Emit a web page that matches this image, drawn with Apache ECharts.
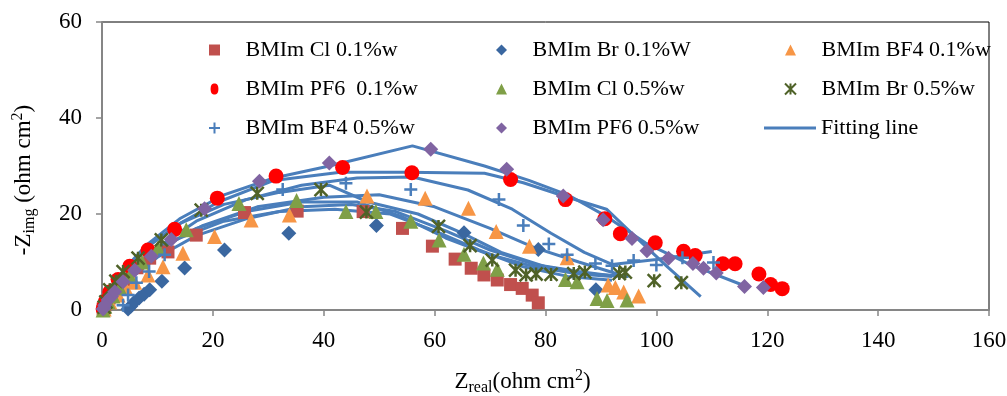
<!DOCTYPE html>
<html>
<head>
<meta charset="utf-8">
<script src="https://cdn.jsdelivr.net/npm/echarts@6/dist/echarts.min.js"></script>
<style>
html,body{margin:0;padding:0;background:#fff;}
#chart{width:1007px;height:396px;}
</style>
</head>
<body>
<div id="chart"></div>
<script>
// ---- data (Z_real, -Z_img) in ohm cm2 ----
const xTicks = [0, 20, 40, 60, 80, 100, 120, 140, 160];
const yTicks = [0, 20, 40, 60];

const cl01 = [[0.2,0.2],[0.5,1.0],[1.3,2.5],[2.5,4.2],[4.1,6.3],[6.3,8.8],[8.6,10.8],[11.9,12.1],[17.0,15.6],[25.7,20.3],[35.2,20.6],[47.1,20.5],[54.2,17.0],[59.6,13.3],[63.7,10.6],[66.6,8.7],[68.9,7.3],[71.3,6.25],[73.7,5.3],[75.8,4.5],[77.6,3.1],[78.7,1.5]];
const br01 = [[4.7,0.2],[5.2,0.8],[5.9,1.7],[6.7,2.5],[7.6,3.3],[8.6,4.2],[10.8,6.0],[14.9,8.75],[22.1,12.5],[33.7,16.0],[49.5,17.6],[65.3,16.1],[78.7,12.6],[89.1,4.2]];
const bf401 = [[0.4,0.2],[1.4,1.7],[2.9,3.1],[4.3,4.6],[5.9,5.8],[8.3,7.3],[11.0,9.0],[14.6,11.8],[20.3,15.3],[26.9,18.75],[33.8,19.8],[47.8,23.75],[58.3,23.3],[66.1,21.2],[71.1,16.35],[77.1,13.3],[83.9,10.9],[91.3,5.2],[92.6,4.7],[94.1,3.75],[96.8,2.9]];
const pf601 = [[0.2,0.2],[0.4,1.0],[0.7,1.9],[1.4,3.75],[2.9,6.35],[5.0,9.1],[8.3,12.5],[13.1,16.8],[20.8,23.3],[31.4,27.9],[43.4,29.7],[55.9,28.6],[73.7,27.2],[83.6,23.0],[90.7,19.0],[93.5,15.9],[99.8,14.0],[104.9,12.25],[107.0,11.35],[112.0,9.65],[114.2,9.65],[118.5,7.5],[120.6,5.3],[122.7,4.45]];
const cl05 = [[0.2,0.0],[0.5,0.8],[1.1,1.7],[2.0,2.9],[3.2,4.6],[5.0,7.1],[7.2,10.0],[10.1,12.9],[15.2,16.7],[24.7,22.2],[35.1,22.8],[44.0,20.5],[49.4,20.5],[55.7,18.5],[60.8,14.6],[65.3,11.6],[68.8,9.8],[71.3,8.5],[83.6,6.35],[85.7,5.9],[89.3,2.4],[91.1,2.0],[94.7,2.1]];
const br05 = [[0.4,0.6],[0.7,1.7],[1.4,4.2],[2.5,6.0],[3.8,8.0],[6.5,10.8],[10.7,14.6],[17.9,20.8],[28.0,24.3],[39.5,25.1],[47.7,20.4],[60.7,17.4],[66.4,13.4],[70.4,10.4],[74.6,8.3],[76.5,7.3],[78.3,7.5],[81.0,7.4],[85.1,7.6],[87.1,7.9],[93.3,7.6],[94.4,7.9],[99.6,6.1],[104.5,5.7]];
const bf405 = [[0.4,0.4],[3.8,1.0],[4.7,3.1],[6.2,5.7],[8.5,8.0],[11.3,11.5],[32.6,25.1],[44.0,26.4],[55.7,25.1],[71.6,23.0],[76.0,17.6],[80.6,13.75],[83.9,11.5],[89.0,9.7],[92.0,9.2],[95.9,10.3],[100.0,9.4],[104.7,10.9],[110.3,9.9]];
const pf605 = [[0.2,0.2],[0.5,1.0],[1.1,2.1],[1.7,2.8],[2.3,3.8],[3.8,5.9],[5.9,8.3],[8.9,11.2],[12.5,14.7],[18.5,21.1],[28.4,26.8],[41.0,30.6],[59.3,33.5],[73.0,29.3],[83.2,23.75],[90.4,18.8],[95.6,14.9],[98.3,12.35],[102.2,10.8],[106.6,9.7],[108.5,8.7],[110.8,7.7],[115.9,4.9],[119.3,4.7]];

// fitting lines
const fitCl01 = [[0,0],[1.5,3.5],[4,7],[8,11],[14,15],[22,18.5],[32,20.5],[42,21],[52,20],[60,16.5],[68,12.5],[76,9],[84,7],[92,6.2]];
const fitBr01 = [[0,0],[2,3],[5,6.5],[10,11],[17,15.5],[26,19],[36,21.5],[45,22],[53,20.5],[62,16.5],[70,12.5],[78,9.5],[86,8],[93,7]];
const fitBf401 = [[0,0],[2,4],[5,8],[10,12.5],[18,17.5],[28,21.5],[40,23.5],[50,24],[60,21.5],[70,17],[78,13],[86,10],[93,7.5]];
const fitPf601 = [[0,0],[1.5,4],[4,8.5],[8,13],[14,18],[21,22.5],[31,27],[43,28.7],[55,28.7],[69,28.5],[76,26.5],[84,23.5],[91,21],[96,15.5],[102,9],[108,2.8]];
const fitCl05 = [[0,0],[2,4],[5,8],[10,12.5],[17,17],[26,20.5],[36,22.5],[46,22.5],[54,19.5],[62,15],[70,11.5],[78,9],[86,7.5],[92,7]];
const fitBr05 = [[0,0],[1.5,4],[4,8.5],[8,13],[14,18],[22,22],[32,24.5],[41,26],[48,22.5],[57,20],[65,16],[72,12],[80,9],[88,7.5],[95,7]];
const fitBf405 = [[0,0],[2,3.5],[5,8],[10,13],[17,18.5],[26,23],[36,26],[46,27.5],[56,27.7],[66,25],[74,21],[81,16],[87,12],[92,9.5],[100,10.5],[110,12.2]];
const fitPf605 = [[0,0],[1.5,4],[4,8.5],[8,13.5],[14,19],[22,24],[31,27.5],[41,30],[56,34.2],[69,30],[77,27],[84,24],[91,19.5],[98,14],[106,9.5],[116,5]];

const names = ['BMIm Cl 0.1%w','BMIm Br 0.1%W','BMIm BF4 0.1%w','BMIm PF6  0.1%w','BMIm Cl 0.5%w','BMIm Br 0.5%w','BMIm BF4 0.5%w','BMIm PF6 0.5%w','Fitting line'];

const FONT = 'Liberation Serif';
const STAR = 'path://M0,0L10,10M10,0L0,10M5,0L5,10';
const PLUS = 'path://M5,0L5,10M0,5L10,5';
const ICON_SQ = 'path://M0,0L10,0L10,10L0,10Z';
const ICON_DIA = 'path://M5,0L10,5L5,10L0,5Z';
const ICON_TRI = 'path://M5,0L10,10L0,10Z';
const ICON_CIR = 'path://M4,0L6,0C8.5,0,10,3,10,7C10,11,8.5,14,6,14L4,14C1.5,14,0,11,0,7C0,3,1.5,0,4,0Z';

const fitColor = '#4A7EBB';
const fits = [fitCl01, fitBr01, fitBf401, fitPf601, fitCl05, fitBr05, fitBf405, fitPf605];

const series = [];
fits.forEach(f => series.push({
  name: 'Fitting line', type: 'line', data: f, showSymbol: false, symbol: 'none',
  lineStyle: {color: fitColor, width: 3}, itemStyle: {color: fitColor},
  animation: false, z: 2
}));

function sc(name, data, symbol, size, color, stroke) {
  const s = {name, type: 'scatter', data, symbol, symbolSize: size, animation: false, z: 3};
  if (stroke) {
    s.itemStyle = {color: 'rgba(0,0,0,0)', borderColor: color, borderWidth: 2.5, opacity: 1};
  } else {
    s.itemStyle = {color: color, opacity: 1};
  }
  return s;
}
series.push(sc(names[0], cl01, 'rect', 13, '#C0504D'));
series.push(sc(names[1], br01, 'diamond', 15, '#3A67A0'));
series.push(sc(names[2], bf401, 'triangle', 15, '#F79646'));
series.push(sc(names[3], pf601, 'circle', 15, '#FF0000'));
series.push(sc(names[4], cl05, 'triangle', 15, '#7F9F47'));
series.push(sc(names[5], br05, STAR, 13, '#4F6228', true));
series.push(sc(names[6], bf405, PLUS, 13, '#4A7EBB', true));
series.push(sc(names[7], pf605, 'diamond', 15, '#8064A2'));

const legendBase = {
  orient: 'vertical', top: 34, itemWidth: 52, itemHeight: 11, itemGap: 17,
  symbolKeepAspect: true,
  textStyle: {fontFamily: FONT, fontSize: 22, color: '#000', lineHeight: 22},
  selectedMode: false
};

const option = {
  backgroundColor: '#fff',
  animation: false,
  grid: {left: 102, right: 18, top: 22, bottom: 86, show: true, borderColor: '#000', borderWidth: 1,
         outerBoundsMode: 'none', containLabel: false},
  legend: [
    Object.assign({}, legendBase, {left: 203, data: [
      {name: names[0], icon: ICON_SQ}, {name: names[3], icon: ICON_CIR}, {name: names[6]}]}),
    Object.assign({}, legendBase, {left: 491, data: [
      {name: names[1], icon: ICON_DIA}, {name: names[4], icon: ICON_TRI}, {name: names[7], icon: ICON_DIA}]}),
    Object.assign({}, legendBase, {left: 779, data: [
      {name: names[2], icon: ICON_TRI}, {name: names[5]}]}),
    Object.assign({}, legendBase, {left: 759, top: 112, itemHeight: 3, data: [
      {name: names[8], icon: 'rect'}]})
  ],
  xAxis: {
    type: 'value', min: xTicks[0], max: xTicks[xTicks.length-1], interval: 20,
    splitLine: {show: false},
    axisLine: {show: true, onZero: false, lineStyle: {color: '#868686', width: 2}},
    axisTick: {show: true, length: 6, lineStyle: {color: '#868686', width: 1.5}},
    axisLabel: {fontFamily: FONT, fontSize: 23, color: '#000', margin: 19},
    name: '{n|Z}{sub|real}{n|(ohm cm}{sup|2}{n|)}',
    nameLocation: 'middle', nameGap: 58,
    nameTextStyle: {
      padding: [0, 46, 0, 0],
      rich: {
        n: {fontFamily: FONT, fontSize: 23, color: '#000', lineHeight: 28},
        sub: {fontFamily: FONT, fontSize: 16, color: '#000', verticalAlign: 'bottom', lineHeight: 16},
        sup: {fontFamily: FONT, fontSize: 16, color: '#000', verticalAlign: 'top', lineHeight: 16}
      }
    }
  },
  yAxis: {
    type: 'value', min: yTicks[0], max: yTicks[yTicks.length-1], interval: 20,
    splitLine: {show: false},
    axisLine: {show: true, lineStyle: {color: '#868686', width: 2}},
    axisTick: {show: true, length: 6, lineStyle: {color: '#868686', width: 1.5}},
    axisLabel: {fontFamily: FONT, fontSize: 23, color: '#000', margin: 20},
    name: '{n|-Z}{sub|img}{n| (ohm cm}{sup|2}{n|)}',
    nameLocation: 'middle', nameGap: 64, nameRotate: 90,
    nameTextStyle: {
      padding: [0, 28, 0, 0],
      rich: {
        n: {fontFamily: FONT, fontSize: 23, color: '#000', lineHeight: 28},
        sub: {fontFamily: FONT, fontSize: 16, color: '#000', verticalAlign: 'bottom', lineHeight: 16},
        sup: {fontFamily: FONT, fontSize: 16, color: '#000', verticalAlign: 'top', lineHeight: 16}
      }
    }
  },
  series: series
};

const chart = echarts.init(document.getElementById('chart'), null, {renderer: 'canvas'});
chart.setOption(option);
</script>
</body>
</html>
